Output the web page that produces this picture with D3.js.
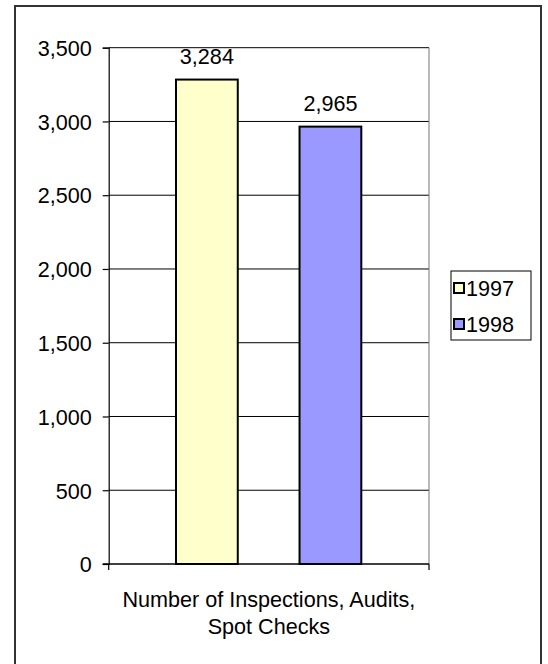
<!DOCTYPE html>
<html>
<head>
<meta charset="utf-8">
<script src="https://cdn.jsdelivr.net/npm/d3@7"></script>
<style>
  html, body { margin: 0; padding: 0; background: #fff; }
  svg { display: block; font-family: Arial, "Liberation Sans", sans-serif; }
</style>
</head>
<body>
<svg id="chart" width="548" height="664"></svg>
<script>
const categories = ["Number of Inspections, Audits, Spot Checks"];
const categoryLines = ["Number of Inspections, Audits,", "Spot Checks"];
const seriesNames = ["1997", "1998"];
const values1997 = [3284];
const values1998 = [2965];
const seriesColors = ["#FFFFCC", "#9999FF"];
const yTicks = [0, 500, 1000, 1500, 2000, 2500, 3000, 3500];

const seriesValues = [values1997, values1998];
const svg = d3.select("#chart");

// outer border
svg.append("rect")
  .attr("x", 15).attr("y", 6).attr("width", 526).attr("height", 664)
  .attr("fill", "none").attr("stroke", "#333").attr("stroke-width", 2);

const plot = { left: 108.7, right: 429, top: 47.7, bottom: 564 };
const fontSize = 21.6;

const y = d3.scaleLinear().domain([0, 3500]).range([plot.bottom, plot.top]);
const x0 = d3.scaleBand().domain(categories).range([plot.left, plot.right]);
const x1 = d3.scaleBand().domain(seriesNames)
  .range([67.3, x0.bandwidth() - 67.7]).paddingInner(0.5);

// gridlines
svg.append("g").selectAll("line").data(yTicks.filter(d => d > 0)).join("line")
  .attr("x1", plot.left).attr("x2", plot.right)
  .attr("y1", d => y(d)).attr("y2", d => y(d))
  .attr("stroke", "#000").attr("stroke-width", 1);

// right plot border
svg.append("line")
  .attr("x1", plot.right).attr("x2", plot.right)
  .attr("y1", plot.top).attr("y2", plot.bottom)
  .attr("stroke", "#777").attr("stroke-width", 1);

// y axis
const yAxis = d3.axisLeft(y).tickValues(yTicks)
  .tickFormat(d3.format(",")).tickSize(6).tickPadding(11);
const gy = svg.append("g").attr("transform", `translate(${plot.left},0)`).call(yAxis);
gy.select(".domain").attr("stroke", "#000").attr("stroke-width", 1.2);
gy.selectAll(".tick line").attr("stroke", "#000").attr("stroke-width", 1.2);
gy.selectAll(".tick text")
  .attr("font-size", fontSize).attr("fill", "#000")
  .attr("font-family", "Arial, 'Liberation Sans', sans-serif")
  .attr("dy", "0.36em");

// x axis baseline with ticks at category edges
const gx = svg.append("g");
gx.append("line")
  .attr("x1", plot.left - 6).attr("x2", plot.right)
  .attr("y1", y(0)).attr("y2", y(0))
  .attr("stroke", "#000").attr("stroke-width", 1.5);
gx.selectAll("line.edge").data([plot.left, plot.right]).join("line")
  .attr("class", "edge")
  .attr("x1", d => d).attr("x2", d => d)
  .attr("y1", y(0)).attr("y2", y(0) + 6)
  .attr("stroke", "#000").attr("stroke-width", 1.2);

// bars
const barData = seriesNames.map((s, i) => ({ series: s, value: seriesValues[i][0], color: seriesColors[i] }));
const gBars = svg.append("g").attr("transform", `translate(${x0(categories[0])},0)`);
gBars.selectAll("rect").data(barData).join("rect")
  .attr("x", d => x1(d.series))
  .attr("width", x1.bandwidth())
  .attr("y", d => y(d.value))
  .attr("height", d => y(0) - y(d.value))
  .attr("fill", d => d.color)
  .attr("stroke", "#000").attr("stroke-width", 2);

// value labels
gBars.selectAll("text").data(barData).join("text")
  .attr("x", d => x1(d.series) + x1.bandwidth() / 2)
  .attr("y", d => y(d.value) - 16)
  .attr("text-anchor", "middle")
  .attr("font-size", fontSize).attr("fill", "#000")
  .text(d => d3.format(",")(d.value));

// category label
const cx = x0(categories[0]) + x0.bandwidth() / 2;
svg.append("g").selectAll("text").data(categoryLines).join("text")
  .attr("x", cx)
  .attr("y", (d, i) => 607 + i * 27)
  .attr("text-anchor", "middle")
  .attr("font-size", fontSize).attr("fill", "#000")
  .text(d => d);

// legend
const lg = svg.append("g");
lg.append("rect")
  .attr("x", 451).attr("y", 271).attr("width", 80).attr("height", 69)
  .attr("fill", "#fff").attr("stroke", "#000").attr("stroke-width", 1);
const items = lg.selectAll("g.item").data(barData).join("g")
  .attr("class", "item")
  .attr("transform", (d, i) => `translate(454, ${288 + i * 36})`);
items.append("rect")
  .attr("x", 0).attr("y", -5).attr("width", 10).attr("height", 10)
  .attr("fill", d => d.color).attr("stroke", "#000").attr("stroke-width", 2);
items.append("text")
  .attr("x", 12).attr("y", 0).attr("dy", "0.36em")
  .attr("font-size", fontSize).attr("fill", "#000")
  .text(d => d.series);
</script>
</body>
</html>
